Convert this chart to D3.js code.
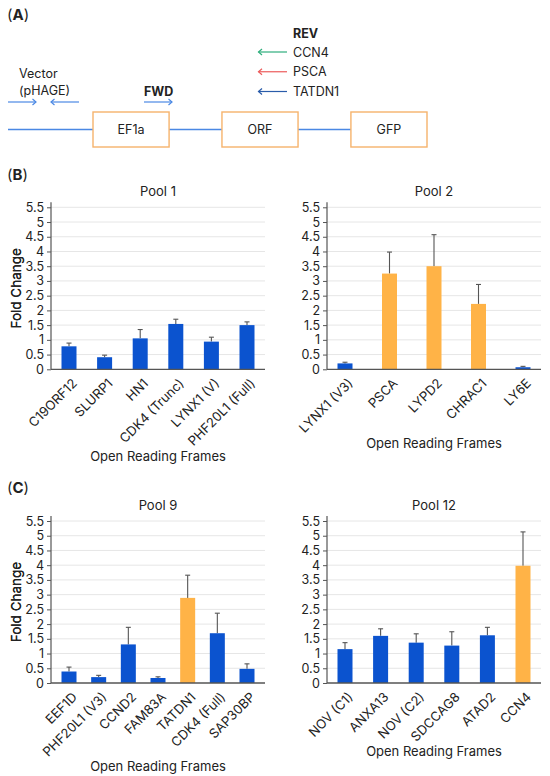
<!DOCTYPE html>
<html>
<head>
<meta charset="utf-8">
<script src="https://cdn.jsdelivr.net/npm/d3@7"></script>
<style>
  body { margin: 0; background: #fff; }
  text { font-family: Inter, "Liberation Sans", sans-serif; fill: #222; }
</style>
</head>
<body>
<svg id="chart" width="550" height="776"></svg>
<script>
// values (fold change, error = upper bar length)
const pool1Orfs = ["C19ORF12", "SLURP1", "HN1", "CDK4 (Trunc)", "LYNX1 (V)", "PHF20L1 (Full)"];
const pool1Fold = [0.78, 0.41, 1.05, 1.54, 0.94, 1.5];
const pool1Err  = [0.11, 0.07, 0.3, 0.16, 0.15, 0.11];

const pool2Orfs = ["LYNX1 (V3)", "PSCA", "LYPD2", "CHRAC1", "LY6E"];
const pool2Fold = [0.2, 3.25, 3.5, 2.22, 0.07];
const pool2Err  = [0.04, 0.73, 1.07, 0.66, 0.03];
const pool2Hits = ["PSCA", "LYPD2", "CHRAC1"];

const pool9Orfs = ["EEF1D", "PHF20L1 (V3)", "CCND2", "FAM83A", "TATDN1", "CDK4 (Full)", "SAP30BP"];
const pool9Fold = [0.39, 0.2, 1.31, 0.17, 2.89, 1.69, 0.48];
const pool9Err  = [0.15, 0.06, 0.58, 0.04, 0.77, 0.68, 0.17];
const pool9Hits = ["TATDN1"];

const pool12Orfs = ["NOV (C1)", "ANXA13", "NOV (C2)", "SDCCAG8", "ATAD2", "CCN4"];
const pool12Fold = [1.15, 1.6, 1.37, 1.27, 1.62, 3.98];
const pool12Err  = [0.22, 0.24, 0.3, 0.47, 0.27, 1.15];
const pool12Hits = ["CCN4"];

const foldTicks = [0, 0.5, 1, 1.5, 2, 2.5, 3, 3.5, 4, 4.5, 5, 5.5];

// panel A construct
const cassette = ["EF1a", "ORF", "GFP"];
const revPrimers = ["CCN4", "PSCA", "TATDN1"];
const revColors = ["#2eae7c", "#ec5b5b", "#2a5caa"];

const svg = d3.select("#chart");
const lineBlue = "#4a88e4";
const barBlue = "#0b53cf";
const barOrange = "#ffb347";
const axisGrey = "#555";

function panelLabel(x, y, letter) {
    var t = svg.append("text").attr("x", x).attr("y", y).style("font-size", "15px");
    t.append("tspan").text("(");
    t.append("tspan").text(letter).style("font-weight", 700);
    t.append("tspan").text(")");
}

function arrow(g, x1, x2, y, color) {
    var s = x2 > x1 ? 1 : -1;
    g.append("line")
        .attr("x1", x1).attr("x2", x2).attr("y1", y).attr("y2", y)
        .attr("stroke", color).attr("stroke-width", 1.2);
    g.append("path")
        .attr("d", "M" + (x2 - s * 3.5) + "," + (y - 3) + "L" + x2 + "," + y + "L" + (x2 - s * 3.5) + "," + (y + 3))
        .attr("fill", "none").attr("stroke", color).attr("stroke-width", 1.2);
}

// ---------- (A) ----------
panelLabel(7, 20, "A");
const gA = svg.append("g");
const boxX = d3.scaleBand().domain(cassette).range([93, 427]).paddingInner(0.41);
const lineY = 129.5;

// backbone, drawn as segments leading into each box
gA.selectAll("path.backbone").data(cassette).join("path")
    .attr("class", "backbone")
    .attr("d", (d, i) => "M" + (i === 0 ? 8 : boxX(cassette[i - 1]) + boxX.bandwidth()) + "," + lineY + "H" + boxX(d))
    .attr("fill", "none").attr("stroke", lineBlue).attr("stroke-width", 1.3);

gA.selectAll("rect.box").data(cassette).join("rect")
    .attr("class", "box")
    .attr("x", d => boxX(d)).attr("y", 112)
    .attr("width", boxX.bandwidth()).attr("height", 35)
    .attr("fill", "#fff").attr("stroke", "#f6b36c").attr("stroke-width", 1.4);

gA.selectAll("text.box").data(cassette).join("text")
    .attr("class", "box")
    .attr("x", d => boxX(d) + boxX.bandwidth() / 2).attr("y", 134)
    .attr("text-anchor", "middle").style("font-size", "12.5px")
    .text(d => d);

gA.append("text").attr("x", 19).attr("y", 78).style("font-size", "12.5px").text("Vector");
gA.append("text").attr("x", 19).attr("y", 94.5).style("font-size", "12.5px").text("(pHAGE)");
arrow(gA, 8, 36, 102, lineBlue);
arrow(gA, 79, 51, 102, lineBlue);

gA.append("text").attr("x", 144).attr("y", 96).style("font-weight", 700).style("font-size", "12.5px").text("FWD");
arrow(gA, 144, 172, 102, lineBlue);

gA.append("text").attr("x", 293).attr("y", 38).style("font-weight", 700).style("font-size", "12.5px").text("REV");
const revY = d3.scalePoint().domain(revPrimers).range([52, 91.5]);
revPrimers.forEach(function(p, i) {
    arrow(gA, 287, 258.5, revY(p), revColors[i]);
    gA.append("text").attr("x", 293).attr("y", revY(p) + 4.5).style("font-size", "12.5px").text(p);
});

// ---------- bar panels ----------
function drawPool(opt) {
    var g = svg.append("g");
    var left = opt.left, right = opt.left + 214;
    var zeroY = opt.top + 162, topY = opt.top;

    var y = d3.scaleLinear().domain([0, 5.5]).range([zeroY, topY]);
    var x = d3.scalePoint().domain(opt.orfs).range([left + 18, right - 18]);
    var hits = opt.hits || [];

    g.append("text")
        .attr("x", (left + right) / 2).attr("y", topY - 11)
        .attr("text-anchor", "middle").style("font-size", "13px")
        .text(opt.title);

    // grid
    g.selectAll("line.grid").data(foldTicks.filter(d => d > 0)).join("line")
        .attr("class", "grid")
        .attr("x1", left).attr("x2", right)
        .attr("y1", d => y(d)).attr("y2", d => y(d))
        .attr("stroke", "#e6e6e6").attr("stroke-width", 1);

    var yAxis = g.append("g")
        .attr("transform", "translate(" + left + ",0)")
        .call(d3.axisLeft(y).tickValues(foldTicks).tickSize(4).tickSizeOuter(0).tickPadding(3)
            .tickFormat(d => String(d)));
    yAxis.select(".domain").attr("stroke", axisGrey).attr("stroke-width", 1.2)
        .attr("d", "M0," + zeroY + "V" + (topY - 5));
    yAxis.selectAll(".tick line").attr("stroke", axisGrey);
    yAxis.selectAll(".tick text").style("font-size", "12.5px")
        .style("font-family", "Inter, 'Liberation Sans', sans-serif").attr("fill", "#222");

    g.append("text")
        .attr("transform", "translate(21," + ((topY + zeroY) / 2) + ") rotate(-90)")
        .attr("text-anchor", "middle").style("font-size", "13.5px")
        .text("Fold Change");

    var rows = opt.orfs.map((o, i) => ({orf: o, fold: opt.fold[i], err: opt.err[i]}));

    // error bars
    var eb = g.selectAll("g.err").data(rows).join("g").attr("class", "err");
    eb.append("line")
        .attr("x1", d => x(d.orf)).attr("x2", d => x(d.orf))
        .attr("y1", d => y(d.fold)).attr("y2", d => y(d.fold + d.err))
        .attr("stroke", axisGrey).attr("stroke-width", 1.1);
    eb.append("line")
        .attr("x1", d => x(d.orf) - 2.5).attr("x2", d => x(d.orf) + 2.5)
        .attr("y1", d => y(d.fold + d.err)).attr("y2", d => y(d.fold + d.err))
        .attr("stroke", axisGrey).attr("stroke-width", 1.1);

    g.selectAll("rect.bar").data(rows).join("rect")
        .attr("class", "bar")
        .attr("x", d => x(d.orf) - 7.5).attr("width", 15)
        .attr("y", d => y(d.fold)).attr("height", d => zeroY - y(d.fold))
        .attr("fill", d => hits.includes(d.orf) ? barOrange : barBlue);

    g.append("line").attr("x1", left).attr("x2", right).attr("y1", zeroY).attr("y2", zeroY)
        .attr("stroke", axisGrey).attr("stroke-width", 1.3);

    var labs = g.append("g");
    labs.selectAll("text").data(opt.orfs).join("text")
        .attr("transform", d => "translate(" + (x(d) + 2) + "," + (zeroY + 8) + ") rotate(-45)")
        .attr("dy", "0.75em")
        .attr("text-anchor", "end").style("font-size", "13px")
        .text(d => d);

    var bb = labs.node().getBBox();
    g.append("text")
        .attr("x", (left + right) / 2).attr("y", bb.y + bb.height + 12)
        .attr("text-anchor", "middle").style("font-size", "13px")
        .text("Open Reading Frames");
}

panelLabel(7, 180, "B");
drawPool({title: "Pool 1", orfs: pool1Orfs, fold: pool1Fold, err: pool1Err, left: 51, top: 207.3});
drawPool({title: "Pool 2", orfs: pool2Orfs, fold: pool2Fold, err: pool2Err, hits: pool2Hits, left: 327, top: 207.3});

panelLabel(7, 493, "C");
drawPool({title: "Pool 9", orfs: pool9Orfs, fold: pool9Fold, err: pool9Err, hits: pool9Hits, left: 51, top: 521});
drawPool({title: "Pool 12", orfs: pool12Orfs, fold: pool12Fold, err: pool12Err, hits: pool12Hits, left: 327, top: 521});
</script>
</body>
</html>
